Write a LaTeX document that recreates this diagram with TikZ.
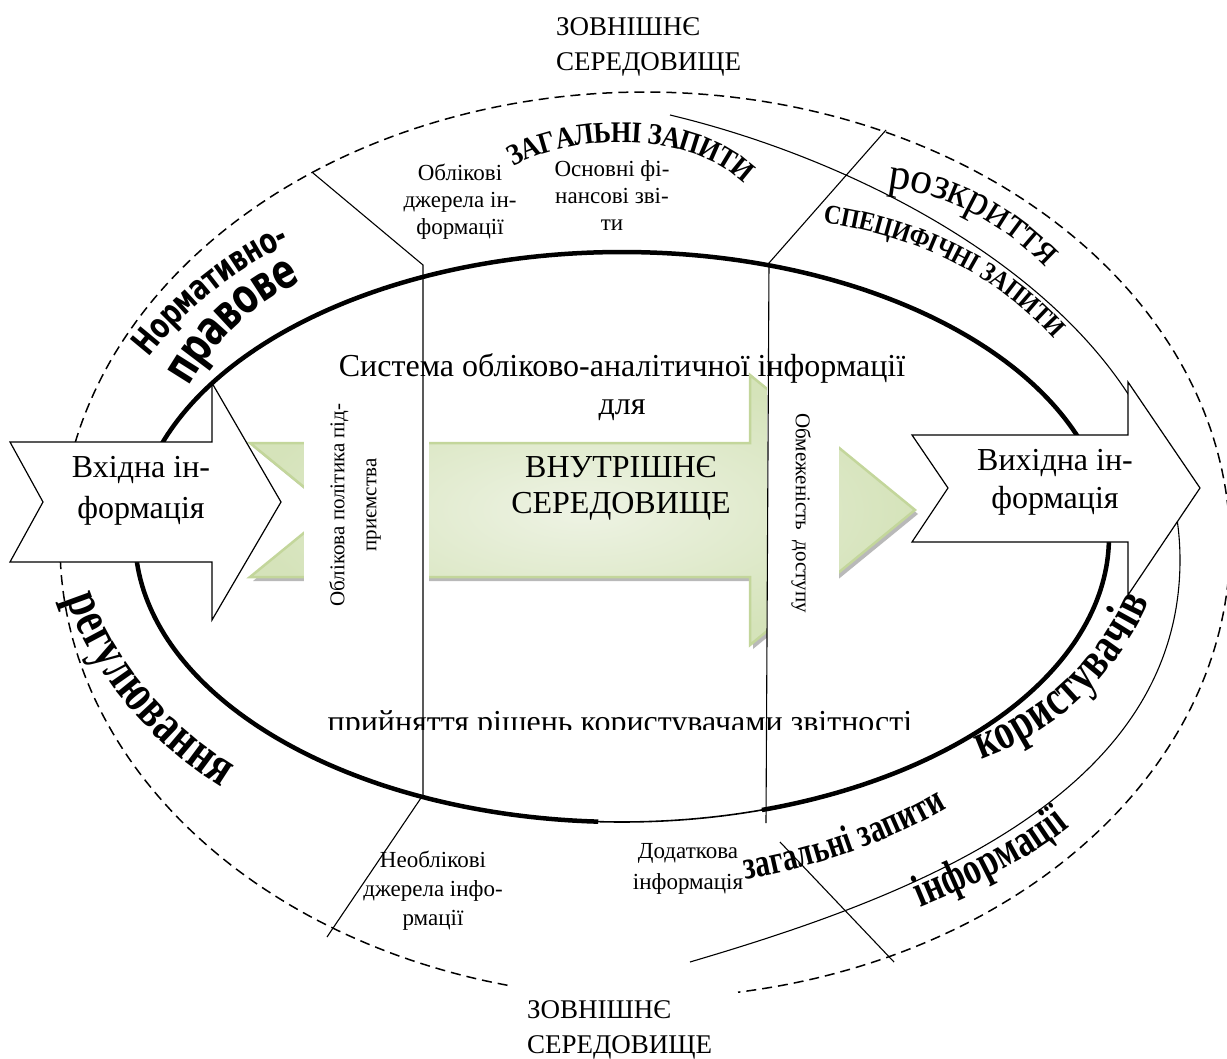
\documentclass[tikz,border=0pt]{standalone}
\usepackage{fontspec}
\setmainfont{Liberation Serif}
\newfontfamily\fsA{Liberation Serif}[FakeStretch=0.88]
\newfontfamily\fsB{Liberation Serif}[FakeStretch=0.74]
\newfontfamily\fsS{DejaVu Sans}[FakeStretch=0.72]
\usetikzlibrary{decorations.text}
\definecolor{grnL}{HTML}{EEF3E4}
\definecolor{grnM}{HTML}{D5E3BA}
\definecolor{grnD}{HTML}{C3D69B}
\begin{document}
\begin{tikzpicture}[x=1pt,y=1pt,
  every node/.style={inner sep=0pt, outer sep=0pt},
  lbl/.style={font=\fontsize{23}{27}\selectfont, align=center},
  biglbl/.style={font=\fontsize{32}{38}\selectfont, align=center},
  envlbl/.style={font=\fontsize{27}{35}\selectfont, align=left},
  divider/.style={line width=1.1pt},
  arrowbox/.style={draw, line width=1.2pt, fill=white, line join=miter},
  outerdash/.style={line width=1.5pt, dash pattern=on 10pt off 6pt},
]
\useasboundingbox (0,0) rectangle (1227,-1059);
\fill[white] (0,0) rectangle (1227,-1059);

% outer dashed ellipse (gap at bottom for label)
\draw[outerdash] plot[domain=103.6:440.85, samples=300]
  ({645+585*cos(\x)}, {-(545+453*sin(\x))});

% inner thick ellipse
\draw[line width=4.5pt] plot[domain=92.8:433.3, samples=300]
  ({622+487*cos(\x)}, {-(537+285*sin(\x))});
\draw[line width=1.6pt] plot[domain=73.3:92.8, samples=30]
  ({622+487*cos(\x)}, {-(537+285*sin(\x))});

% thin arc on the right
\draw[line width=1.1pt] (670,-115) .. controls (900,-170) and (1180,-330) .. (1180,-560)
  .. controls (1180,-800) and (900,-900) .. (690,-962);

% green block arrow
\fill[gray!55] (253,-447) -- (753,-447) -- (753,-379) -- (918,-514) -- (753,-649) -- (753,-581) -- (253,-581) -- (335,-514) -- cycle;
\shade[inner color=grnL, outer color=grnM, draw=grnD, line width=2.5pt]
  (250,-443) -- (750,-443) -- (750,-375) -- (915,-510) -- (750,-645) -- (750,-577) -- (250,-577) -- (332,-510) -- cycle;
\fill[white] (304,-360) rectangle (429,-660);
\fill[white] (767,-360) rectangle (839,-660);

% input / output arrows
\draw[arrowbox] (10,-442) -- (212,-442) -- (212,-383) -- (281,-502) -- (212,-620) -- (212,-562) -- (10,-562) -- (43,-502) -- cycle;
\draw[arrowbox] (912,-435) -- (1128,-435) -- (1128,-382) -- (1200,-488) -- (1128,-595) -- (1128,-542) -- (912,-542) -- (948,-488) -- cycle;

% texts
\node[envlbl, anchor=north west] (topenv) at (556,-18) {ЗОВНІШНЄ\\СЕРЕДОВИЩЕ};
\node[envlbl, anchor=north west] (botenv) at (527,-1001) {ЗОВНІШНЄ\\СЕРЕДОВИЩЕ};
\node[biglbl, anchor=north] (sys) at (622,-354) {Система обліково-аналітичної інформації\\для};
\node[biglbl, anchor=north, font=\fontsize{32}{36}\selectfont] (inner) at (621,-456) {ВНУТРІШНЄ\\СЕРЕДОВИЩЕ};
\node[biglbl, anchor=north, font=\fontsize{32}{41}\selectfont] (inA) at (141,-456) {Вхідна ін-\\формація};
\node[biglbl, anchor=north] (outA) at (1055,-449) {Вихідна ін-\\формація};
\node[lbl, anchor=north] (srcA) at (460,-164) {Облікові\\джерела ін-\\формації};
\node[lbl, anchor=north] (fin) at (612,-161) {Основні фі-\\нансові зві-\\ти};
\node[lbl, anchor=north, font=\fontsize{23}{29}\selectfont] (nsrc) at (433,-851) {Необлікові\\джерела інфо-\\рмації};
\node[lbl, anchor=north, font=\fontsize{23}{31}\selectfont] (addi) at (688,-843) {Додаткова\\інформація};
\node[lbl, rotate=90, font=\fontsize{21}{32}\selectfont] (pol) at (355,-505) {Облікова політика під-\\приємства};
\node[lbl, rotate=-90, font=\fontsize{21}{32}\selectfont] (lim) at (801,-513) {Обмеженість\ \ доступу};
\begin{scope}
  \clip (300,-690) rectangle (950,-729);
  \node[biglbl, anchor=base] (dec) at (620,-732) {прийняття рішень користувачами звітності};
\end{scope}

% dividers
\draw[divider] (313,-173) -- (423,-265) -- (423,-795) -- (327,-937);
\draw[divider] (886,-130) -- (769,-263) -- (766,-823);
\draw[divider] (780,-842) -- (894,-962);

% curved word-art texts
\path[decorate, decoration={text along path, text align=center, raise=-10pt,
  text={|\fsA\bfseries\fontsize{30}{30}\selectfont|ЗАГАЛЬНІ ЗАПИТИ}}]
  (481,-176) -- (506,-160) .. controls (560,-125) and (690,-115) .. (752,-178) -- (773,-200);
\path[decorate, decoration={text along path, text align=center, raise=-9pt,
  text={|\fsA\bfseries\fontsize{27}{27}\selectfont|СПЕЦИФІЧНІ ЗАПИТИ}}]
  (796,-210) -- (826,-214) .. controls (900,-225) and (990,-255) .. (1060,-332) -- (1080,-354);
\path[decorate, decoration={text along path, text align=center, raise=-10pt,
  text={|\fontsize{44}{44}\selectfont|розкриття}}]
  (863,-174) -- (893,-178) .. controls (950,-185) and (1005,-212) .. (1050,-258) -- (1071,-279);
\path[decorate, decoration={text along path, text align=center, raise=-11pt,
  text={|\fsS\bfseries\fontsize{35}{35}\selectfont|Нормативно-}}]
  (118,-379) -- (136,-355) .. controls (170,-310) and (225,-260) .. (290,-232) -- (318,-220);
\path[decorate, decoration={text along path, text align=center, raise=-13pt,
  text={|\fsS\bfseries\fontsize{48}{48}\selectfont|правове}}]
  (161,-411) -- (175,-385) .. controls (205,-330) and (250,-290) .. (300,-268) -- (327,-256);
\path[decorate, decoration={text along path, text align=center, raise=-13pt,
  text={|\fsB\bfseries\fontsize{54}{54}\selectfont|регулювання}}]
  (70,-561) -- (78,-590) .. controls (95,-650) and (150,-730) .. (232,-778) -- (258,-793);
\path[decorate, decoration={text along path, text align=center, raise=-12pt,
  text={|\fsB\bfseries\fontsize{51}{51}\selectfont|користувачів}}]
  (950,-758) -- (978,-748) .. controls (1040,-725) and (1100,-680) .. (1138,-598) -- (1151,-571);
\path[decorate, decoration={text along path, text align=center, raise=-9pt,
  text={|\fsB\bfseries\fontsize{40}{40}\selectfont|загальні запити}}]
  (710,-876) -- (740,-871) .. controls (800,-862) and (880,-838) .. (947,-798) -- (972,-782);
\path[decorate, decoration={text along path, text align=center, raise=-10pt,
  text={|\fsB\bfseries\fontsize{46}{46}\selectfont|інформації}}]
  (884,-911) -- (912,-900) .. controls (960,-880) and (1020,-855) .. (1068,-815) -- (1091,-796);
\end{tikzpicture}
\end{document}
